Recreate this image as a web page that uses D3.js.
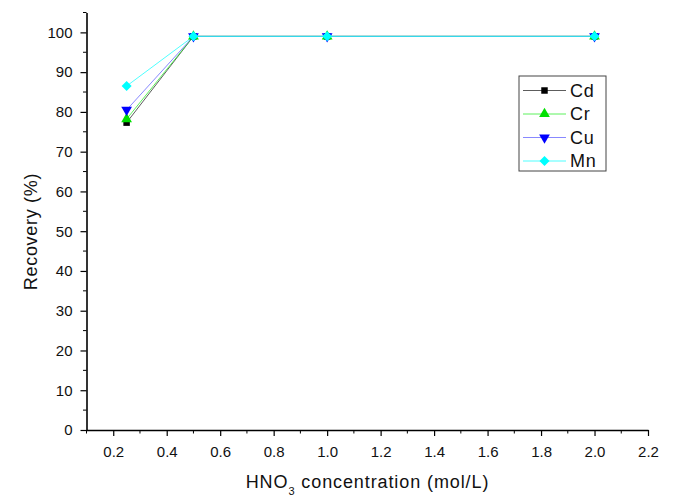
<!DOCTYPE html>
<html>
<head>
<meta charset="utf-8">
<script src="https://cdn.jsdelivr.net/npm/d3@7"></script>
<style>
  body { margin: 0; background: #fff; }
  text { font-family: "Liberation Sans", Arial, sans-serif; fill: #111; }
</style>
</head>
<body>
<svg id="chart"></svg>
<script>
// HNO3 concentration (mol/L)
var conc = [0.25, 0.5, 1.0, 2.0]
// recovery (%) per element
var cd = [77.3, 99, 99, 99]
var cr = [78.2, 99, 99, 99]
var cu = [80.5, 99, 99, 99]
var mn = [86.5, 99, 99, 99]
var names = ["Cd", "Cr", "Cu", "Mn"]
var xTicks = [0.2, 0.4, 0.6, 0.8, 1.0, 1.2, 1.4, 1.6, 1.8, 2.0, 2.2]
var yTicks = [0, 10, 20, 30, 40, 50, 60, 70, 80, 90, 100]

var series = [
    {name: names[0], values: cd, color: "#000000", lineColor: "#333333", shape: d3.symbolSquare, size: 42, rot: 0},
    {name: names[1], values: cr, color: "#00e000", lineColor: "#33ee33", shape: d3.symbolTriangle, size: 50, rot: 0},
    {name: names[2], values: cu, color: "#0000ff", lineColor: "#6a6aff", shape: d3.symbolTriangle, size: 50, rot: 180},
    {name: names[3], values: mn, color: "#00ffff", lineColor: "#22ffff", shape: d3.symbolSquare, size: 50, rot: 45}
]

var width = 673, height = 496

var svg = d3.select("#chart")
    .attr("width", width)
    .attr("height", height)

var x = d3.scaleLinear().domain([0.1, 2.2]).range([86.5, 648])
var y = d3.scaleLinear().domain([0, 105]).range([430, 12.5])

// x axis
var xAxis = svg.append("g").attr("transform", "translate(0,430)")
xAxis.call(d3.axisBottom(x).tickValues(xTicks).tickFormat(d3.format(".1f")).tickSize(6).tickPadding(10).tickSizeOuter(0))
xAxis.selectAll(".tick text").style("font-size", "15px")
xAxis.append("g").selectAll("line")
    .data(d3.range(0.1, 2.25, 0.2).map(function (d) { return +d.toFixed(1) }))
    .enter().append("line")
    .attr("x1", function (d) { return x(d) }).attr("x2", function (d) { return x(d) })
    .attr("y1", 0).attr("y2", 3.5).attr("stroke", "#000")

// y axis
var yAxis = svg.append("g").attr("transform", "translate(86.5,0)")
yAxis.call(d3.axisLeft(y).tickValues(yTicks).tickSize(6).tickPadding(8).tickSizeOuter(0))
yAxis.selectAll(".tick text").style("font-size", "15px")
yAxis.append("g").selectAll("line")
    .data(d3.range(5, 106, 10))
    .enter().append("line")
    .attr("y1", function (d) { return y(d) }).attr("y2", function (d) { return y(d) })
    .attr("x1", 0).attr("x2", -3.5).attr("stroke", "#000")

svg.selectAll(".domain").attr("stroke", "#000").attr("stroke-width", 1.6)
svg.selectAll(".tick line").attr("stroke", "#000").attr("stroke-width", 1.2)

// lines and markers
var line = d3.line()
    .x(function (d, i) { return x(conc[i]) })
    .y(function (d) { return y(d) })

series.forEach(function (s) {
    svg.append("path")
        .attr("d", line(s.values))
        .attr("fill", "none")
        .attr("stroke", s.lineColor)
        .attr("stroke-width", 0.8)
})

series.forEach(function (s) {
    svg.selectAll(null)
        .data(s.values)
        .enter().append("path")
        .attr("d", d3.symbol().type(s.shape).size(s.size))
        .attr("transform", function (d, i) {
            return "translate(" + x(conc[i]) + "," + y(d) + ") rotate(" + s.rot + ")"
        })
        .attr("fill", s.color)
})

// legend
var lg = svg.append("g").attr("transform", "translate(519,76)")
lg.append("rect")
    .attr("width", 87).attr("height", 95)
    .attr("fill", "#fff").attr("stroke", "#444").attr("stroke-width", 1)

series.forEach(function (s, i) {
    var row = lg.append("g").attr("transform", "translate(0," + (14.5 + i * 23.5) + ")")
    row.append("line")
        .attr("x1", 4).attr("x2", 47)
        .attr("stroke", s.lineColor).attr("stroke-width", 0.8)
    row.append("path")
        .attr("d", d3.symbol().type(s.shape).size(s.size))
        .attr("transform", "translate(25.5,0) rotate(" + s.rot + ")")
        .attr("fill", s.color)
    row.append("text")
        .attr("x", 51).attr("y", 0).attr("dy", "0.36em")
        .style("font-size", "18px")
        .style("letter-spacing", "0.8px")
        .text(s.name)
})

// axis titles
svg.append("text")
    .attr("transform", "translate(37,231.5) rotate(-90)")
    .attr("text-anchor", "middle")
    .style("font-size", "18px")
    .style("letter-spacing", "0.7px")
    .text("Recovery (%)")

var xt = svg.append("text")
    .attr("x", 367.5).attr("y", 488)
    .attr("text-anchor", "middle")
    .style("font-size", "18px")
    .style("letter-spacing", "0.9px")
xt.append("tspan").text("HNO")
xt.append("tspan").attr("dy", 7).style("font-size", "11px").text("3")
xt.append("tspan").attr("dy", -7).text(" concentration (mol/L)")
</script>
</body>
</html>
